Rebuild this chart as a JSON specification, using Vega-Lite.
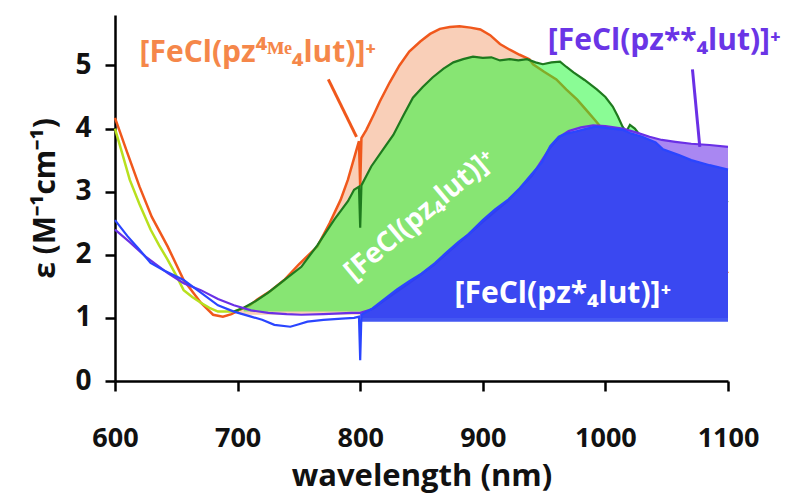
{
  "$schema": "https://vega.github.io/schema/vega-lite/v6.json",
  "width": 613,
  "height": 366,
  "autosize": "none",
  "padding": {"left": 115, "top": 15, "right": 66, "bottom": 114},
  "background": "white",
  "config": {"view": {"stroke": null}},
  "datasets": {
    "spectra": [
      {"s":"O","wl":600,"eps":4.17},{"s":"O","wl":610,"eps":3.62},{"s":"O","wl":620,"eps":3.08},{"s":"O","wl":630,"eps":2.6},{"s":"O","wl":643,"eps":2.13},{"s":"O","wl":656,"eps":1.6},{"s":"O","wl":670,"eps":1.24},{"s":"O","wl":680,"eps":1.05},{"s":"O","wl":688,"eps":1.02},{"s":"O","wl":695,"eps":1.06},{"s":"O","wl":702,"eps":1.13},{"s":"O","wl":710,"eps":1.2},{"s":"O","wl":716,"eps":1.29},{"s":"O","wl":727,"eps":1.43},{"s":"O","wl":738,"eps":1.6},{"s":"O","wl":750,"eps":1.85},{"s":"O","wl":765,"eps":2.13},{"s":"O","wl":775,"eps":2.5},{"s":"O","wl":784,"eps":2.87},{"s":"O","wl":790,"eps":3.19},{"s":"O","wl":796,"eps":3.6},{"s":"O","wl":799,"eps":3.8},{"s":"O","wl":800,"eps":3.08},{"s":"O","wl":801,"eps":3.85},{"s":"O","wl":805,"eps":3.98},{"s":"O","wl":811,"eps":4.22},{"s":"O","wl":816,"eps":4.43},{"s":"O","wl":824,"eps":4.73},{"s":"O","wl":832,"eps":5.0},{"s":"O","wl":840,"eps":5.22},{"s":"O","wl":849,"eps":5.38},{"s":"O","wl":857,"eps":5.5},{"s":"O","wl":865,"eps":5.58},{"s":"O","wl":873,"eps":5.61},{"s":"O","wl":881,"eps":5.62},{"s":"O","wl":890,"eps":5.6},{"s":"O","wl":898,"eps":5.57},{"s":"O","wl":906,"eps":5.48},{"s":"O","wl":914,"eps":5.34},{"s":"O","wl":922,"eps":5.25},{"s":"O","wl":930,"eps":5.17},{"s":"O","wl":938,"eps":5.1},{"s":"O","wl":941,"eps":5.02},{"s":"O","wl":950,"eps":4.9},{"s":"O","wl":960,"eps":4.78},{"s":"O","wl":968,"eps":4.62},{"s":"O","wl":977,"eps":4.46},{"s":"O","wl":985,"eps":4.28},{"s":"O","wl":993,"eps":4.1},{"s":"O","wl":998,"eps":3.98},{"s":"O","wl":1001,"eps":3.94},{"s":"O","wl":1008,"eps":3.6},{"s":"O","wl":1014,"eps":3.24},{"s":"O","wl":1030,"eps":2.95},{"s":"O","wl":1050,"eps":2.6},{"s":"O","wl":1070,"eps":2.25},{"s":"O","wl":1085,"eps":1.98},{"s":"O","wl":1100,"eps":1.71},
      {"s":"G","wl":600,"eps":4.0},{"s":"G","wl":606,"eps":3.6},{"s":"G","wl":612,"eps":3.19},{"s":"G","wl":620,"eps":2.8},{"s":"G","wl":629,"eps":2.4},{"s":"G","wl":636,"eps":2.15},{"s":"G","wl":643,"eps":1.92},{"s":"G","wl":650,"eps":1.67},{"s":"G","wl":656,"eps":1.44},{"s":"G","wl":663,"eps":1.33},{"s":"G","wl":670,"eps":1.24},{"s":"G","wl":677,"eps":1.16},{"s":"G","wl":684,"eps":1.1},{"s":"G","wl":690,"eps":1.1},{"s":"G","wl":697,"eps":1.1},{"s":"G","wl":705,"eps":1.16},{"s":"G","wl":715,"eps":1.27},{"s":"G","wl":725,"eps":1.4},{"s":"G","wl":738,"eps":1.6},{"s":"G","wl":752,"eps":1.81},{"s":"G","wl":765,"eps":2.15},{"s":"G","wl":779,"eps":2.56},{"s":"G","wl":790,"eps":2.85},{"s":"G","wl":795,"eps":3.03},{"s":"G","wl":799,"eps":3.08},{"s":"G","wl":800,"eps":2.43},{"s":"G","wl":801,"eps":3.1},{"s":"G","wl":809,"eps":3.4},{"s":"G","wl":818,"eps":3.65},{"s":"G","wl":827,"eps":3.9},{"s":"G","wl":835,"eps":4.2},{"s":"G","wl":843,"eps":4.49},{"s":"G","wl":851,"eps":4.66},{"s":"G","wl":859,"eps":4.81},{"s":"G","wl":868,"eps":4.95},{"s":"G","wl":876,"eps":5.05},{"s":"G","wl":884,"eps":5.1},{"s":"G","wl":892,"eps":5.14},{"s":"G","wl":900,"eps":5.12},{"s":"G","wl":907,"eps":5.13},{"s":"G","wl":914,"eps":5.08},{"s":"G","wl":922,"eps":5.1},{"s":"G","wl":929,"eps":5.08},{"s":"G","wl":936,"eps":5.1},{"s":"G","wl":943,"eps":5.05},{"s":"G","wl":949,"eps":5.02},{"s":"G","wl":956,"eps":5.05},{"s":"G","wl":963,"eps":5.06},{"s":"G","wl":968,"eps":4.98},{"s":"G","wl":974,"eps":4.89},{"s":"G","wl":983,"eps":4.77},{"s":"G","wl":993,"eps":4.62},{"s":"G","wl":1000,"eps":4.5},{"s":"G","wl":1006,"eps":4.35},{"s":"G","wl":1010,"eps":4.2},{"s":"G","wl":1014,"eps":4.03},{"s":"G","wl":1017,"eps":3.95},{"s":"G","wl":1020,"eps":4.06},{"s":"G","wl":1024,"eps":4.0},{"s":"G","wl":1028,"eps":3.9},{"s":"G","wl":1036,"eps":3.67},{"s":"G","wl":1046,"eps":3.55},{"s":"G","wl":1057,"eps":3.4},{"s":"G","wl":1070,"eps":3.2},{"s":"G","wl":1085,"eps":3.0},{"s":"G","wl":1100,"eps":2.83},
      {"s":"P","wl":600,"eps":2.4},{"s":"P","wl":612,"eps":2.2},{"s":"P","wl":625,"eps":1.97},{"s":"P","wl":643,"eps":1.71},{"s":"P","wl":656,"eps":1.55},{"s":"P","wl":670,"eps":1.44},{"s":"P","wl":684,"eps":1.3},{"s":"P","wl":697,"eps":1.2},{"s":"P","wl":711,"eps":1.12},{"s":"P","wl":725,"eps":1.08},{"s":"P","wl":740,"eps":1.06},{"s":"P","wl":752,"eps":1.05},{"s":"P","wl":770,"eps":1.06},{"s":"P","wl":793,"eps":1.08},{"s":"P","wl":800,"eps":1.08},{"s":"P","wl":810,"eps":1.14},{"s":"P","wl":820,"eps":1.28},{"s":"P","wl":840,"eps":1.55},{"s":"P","wl":860,"eps":1.84},{"s":"P","wl":880,"eps":2.18},{"s":"P","wl":900,"eps":2.52},{"s":"P","wl":920,"eps":2.85},{"s":"P","wl":940,"eps":3.25},{"s":"P","wl":955,"eps":3.7},{"s":"P","wl":962,"eps":3.86},{"s":"P","wl":970,"eps":3.96},{"s":"P","wl":980,"eps":4.02},{"s":"P","wl":990,"eps":4.05},{"s":"P","wl":1000,"eps":4.04},{"s":"P","wl":1014,"eps":4.0},{"s":"P","wl":1025,"eps":3.94},{"s":"P","wl":1036,"eps":3.87},{"s":"P","wl":1046,"eps":3.82},{"s":"P","wl":1057,"eps":3.79},{"s":"P","wl":1070,"eps":3.76},{"s":"P","wl":1085,"eps":3.74},{"s":"P","wl":1100,"eps":3.71},
      {"s":"B","wl":600,"eps":2.55},{"s":"B","wl":610,"eps":2.3},{"s":"B","wl":620,"eps":2.08},{"s":"B","wl":629,"eps":1.87},{"s":"B","wl":640,"eps":1.75},{"s":"B","wl":656,"eps":1.6},{"s":"B","wl":670,"eps":1.4},{"s":"B","wl":684,"eps":1.2},{"s":"B","wl":697,"eps":1.1},{"s":"B","wl":711,"eps":1.02},{"s":"B","wl":720,"eps":0.97},{"s":"B","wl":730,"eps":0.89},{"s":"B","wl":743,"eps":0.86},{"s":"B","wl":750,"eps":0.9},{"s":"B","wl":757,"eps":0.94},{"s":"B","wl":770,"eps":0.97},{"s":"B","wl":785,"eps":0.99},{"s":"B","wl":795,"eps":1.0},{"s":"B","wl":799,"eps":1.02},{"s":"B","wl":800,"eps":0.33},{"s":"B","wl":801,"eps":1.05},{"s":"B","wl":810,"eps":1.15},{"s":"B","wl":820,"eps":1.3},{"s":"B","wl":830,"eps":1.45},{"s":"B","wl":840,"eps":1.58},{"s":"B","wl":850,"eps":1.7},{"s":"B","wl":861,"eps":1.87},{"s":"B","wl":870,"eps":2.03},{"s":"B","wl":880,"eps":2.2},{"s":"B","wl":888,"eps":2.32},{"s":"B","wl":900,"eps":2.55},{"s":"B","wl":910,"eps":2.72},{"s":"B","wl":921,"eps":2.88},{"s":"B","wl":930,"eps":3.05},{"s":"B","wl":940,"eps":3.28},{"s":"B","wl":948,"eps":3.46},{"s":"B","wl":955,"eps":3.72},{"s":"B","wl":962,"eps":3.87},{"s":"B","wl":968,"eps":3.92},{"s":"B","wl":975,"eps":3.95},{"s":"B","wl":985,"eps":4.0},{"s":"B","wl":992,"eps":4.03},{"s":"B","wl":998,"eps":4.02},{"s":"B","wl":1005,"eps":4.0},{"s":"B","wl":1014,"eps":3.98},{"s":"B","wl":1020,"eps":3.93},{"s":"B","wl":1030,"eps":3.87},{"s":"B","wl":1041,"eps":3.78},{"s":"B","wl":1047,"eps":3.67},{"s":"B","wl":1060,"eps":3.58},{"s":"B","wl":1070,"eps":3.5},{"s":"B","wl":1085,"eps":3.42},{"s":"B","wl":1100,"eps":3.35}
    ],
    "leaders": [
      {"s":"O","wl":774,"eps":4.78,"wl2":797,"eps2":3.87},
      {"s":"P","wl":1071,"eps":4.94,"wl2":1077,"eps2":3.71}
    ],
    "labels": [
      {"s":"O","wl":620,"eps":5.06,"text":"[FeCl(pz⁴ᴹᵉ₄lut)]⁺"},
      {"s":"P","wl":953,"eps":5.25,"text":"[FeCl(pz**₄lut)]⁺"},
      {"s":"G","wl":849,"eps":2.62,"text":"[FeCl(pz₄lut)]⁺"},
      {"s":"B","wl":877,"eps":1.24,"text":"[FeCl(pz*₄lut)]⁺"}
    ]
  },
  "encoding": {
    "x": {"field":"wl","type":"quantitative","scale":{"domain":[600,1100],"nice":false,"zero":false},
      "axis":{"title":"wavelength (nm)","values":[600,700,800,900,1000,1100],"format":"d","grid":false,
        "domainColor":"black","domainWidth":2.5,"tickColor":"black","tickWidth":2.5,"tickSize":10,
        "labelFont":"Open Sans","labelFontSize":27,"labelFontWeight":"bold","labelColor":"#111111","labelPadding":34,"labelFlush":false,
        "titleFont":"Open Sans","titleFontSize":31,"titleFontWeight":"bold","titleColor":"#111111","titlePadding":10}},
    "y": {"field":"eps","type":"quantitative","scale":{"domain":[0,5.8],"nice":false},
      "axis":{"title":"ε (M⁻¹cm⁻¹)","values":[0,1,2,3,4,5],"format":"d","grid":false,
        "domainColor":"black","domainWidth":2.5,"tickColor":"black","tickWidth":2.5,"tickSize":10,
        "labelFont":"Open Sans","labelFontSize":28,"labelFontWeight":"bold","labelColor":"#111111","labelPadding":14,"labelFlush":false,
        "titleFont":"Open Sans","titleFontSize":30,"titleFontWeight":"bold","titleColor":"#111111","titlePadding":14}}
  },
  "layer": [
    {"data":{"name":"spectra"},"transform":[{"filter":"datum.s=='O' && datum.wl>=700 && datum.wl!=800"}],
     "mark":{"type":"area","color":"#f9cfb8","opacity":1},"encoding":{"y2":{"datum":1.05}}},
    {"data":{"name":"spectra"},"transform":[{"filter":"datum.s=='O'"}],
     "mark":{"type":"line","color":"#f0581c","strokeWidth":2.5},"encoding":{}},
    {"data":{"name":"spectra"},"transform":[{"filter":"datum.s=='G' && datum.wl>=700 && datum.wl!=800"}],
     "mark":{"type":"area","color":"#1ffa34","opacity":0.52},"encoding":{"y2":{"datum":1.1}}},
    {"data":{"name":"spectra"},"transform":[{"filter":"datum.s=='G' && datum.wl<=705"}],
     "mark":{"type":"line","color":"#b8e01e","strokeWidth":2.5},"encoding":{}},
    {"data":{"name":"spectra"},"transform":[{"filter":"datum.s=='G' && datum.wl>=697"}],
     "mark":{"type":"line","color":"#1e7a1e","strokeWidth":2.2},"encoding":{}},
    {"data":{"name":"spectra"},"transform":[{"filter":"datum.s=='P' && datum.wl>=800"}],
     "mark":{"type":"area","color":"#a987f2","opacity":1},"encoding":{"y2":{"datum":1.0}}},
    {"data":{"name":"spectra"},"transform":[{"filter":"datum.s=='P'"}],
     "mark":{"type":"line","color":"#6a30e6","strokeWidth":2.2},"encoding":{}},
    {"data":{"name":"spectra"},"transform":[{"filter":"datum.s=='B' && datum.wl>=801"}],
     "mark":{"type":"area","color":"#2a40f0","opacity":0.88},"encoding":{"y2":{"datum":0.94}}},
    {"data":{"name":"spectra"},"transform":[{"filter":"datum.s=='B'"}],
     "mark":{"type":"line","color":"#2a45ff","strokeWidth":2.2},"encoding":{}},
    {"data":{"name":"leaders"},"transform":[{"filter":"datum.s=='O'"}],
     "mark":{"type":"rule","color":"#f0581c","strokeWidth":3},
     "encoding":{"x2":{"field":"wl2"},"y2":{"field":"eps2"}}},
    {"data":{"name":"leaders"},"transform":[{"filter":"datum.s=='P'"}],
     "mark":{"type":"rule","color":"#6a30e6","strokeWidth":3},
     "encoding":{"x2":{"field":"wl2"},"y2":{"field":"eps2"}}},
    {"data":{"name":"labels"},"transform":[{"filter":"datum.s=='O'"}],
     "mark":{"type":"text","align":"left","baseline":"alphabetic","font":"Open Sans","fontWeight":"bold","fontSize":30,"color":"#f5874a","clip":false},
     "encoding":{"text":{"field":"text"}}},
    {"data":{"name":"labels"},"transform":[{"filter":"datum.s=='P'"}],
     "mark":{"type":"text","align":"left","baseline":"alphabetic","font":"Open Sans","fontWeight":"bold","fontSize":30,"color":"#6a35e6","clip":false},
     "encoding":{"text":{"field":"text"}}},
    {"data":{"name":"labels"},"transform":[{"filter":"datum.s=='G'"}],
     "mark":{"type":"text","align":"center","baseline":"middle","font":"Open Sans","fontWeight":"bold","fontSize":28,"color":"white","angle":-40},
     "encoding":{"text":{"field":"text"}}},
    {"data":{"name":"labels"},"transform":[{"filter":"datum.s=='B'"}],
     "mark":{"type":"text","align":"left","baseline":"alphabetic","font":"Open Sans","fontWeight":"bold","fontSize":30,"color":"white"},
     "encoding":{"text":{"field":"text"}}}
  ]
}
